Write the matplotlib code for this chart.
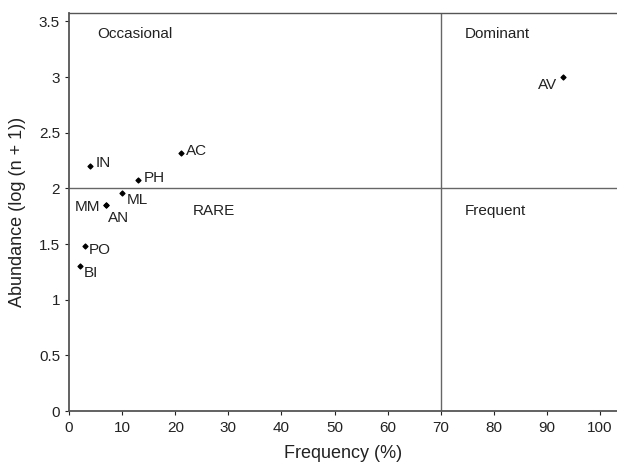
import matplotlib
matplotlib.use("Agg")
import matplotlib.pyplot as plt

plt.rcParams['font.family'] = ['Liberation Sans', 'DejaVu Sans']

codes = ["AV", "AC", "IN", "PH", "ML", "MM", "AN", "PO", "BI"]
frequency = [93, 21, 4, 13, 10, 7, 7, 3, 2]
abundance = [3.0, 2.32, 2.2, 2.08, 1.96, 1.85, 1.85, 1.48, 1.3]
# label offsets in points (dx, dy) and alignment
label_pos = {
    "AV": (-4, -6, "right"),
    "AC": (4, 1, "left"),
    "IN": (4, 2, "left"),
    "PH": (4, 1, "left"),
    "ML": (3, -5, "left"),
    "MM": (-4, -1, "right"),
    "AN": (1, -9, "left"),
    "PO": (3, -3, "left"),
    "BI": (3, -5, "left"),
}
quadrants = [("Occasional", 5.3, 3.39), ("Dominant", 74.6, 3.39),
             ("RARE", 23.2, 1.8), ("Frequent", 74.6, 1.8)]
x_ticks = [0, 10, 20, 30, 40, 50, 60, 70, 80, 90, 100]
y_ticks = [0, 0.5, 1, 1.5, 2, 2.5, 3, 3.5]
y_tick_labels = ["0", "0.5", "1", "1.5", "2", "2.5", "3", "3.5"]

fig = plt.figure(figsize=(6.17, 4.65), dpi=100)
ax = fig.add_axes([0.112, 0.116, 0.888, 0.857])
ax.set_xlim(0, 103.2)
ax.set_ylim(0, 3.58)

ax.axvline(70, color="#666666", lw=1.0, zorder=1)
ax.axhline(2, color="#666666", lw=1.0, zorder=1)

ax.scatter(frequency, abundance, marker="D", s=6, color="black", zorder=3)
for c, x, y in zip(codes, frequency, abundance):
    dx, dy, ha = label_pos[c]
    ax.annotate(c, (x, y), xytext=(dx, dy), textcoords="offset points",
                ha=ha, va="center", fontsize=11, color="#222222")

for t, x, y in quadrants:
    ax.text(x, y, t, ha="left", va="center", fontsize=11, color="#222222")

ax.set_xticks(x_ticks)
ax.set_yticks(y_ticks)
ax.set_yticklabels(y_tick_labels)
ax.tick_params(axis="both", labelsize=11, colors="#222222", length=3,
               width=0.8, direction="out")
ax.tick_params(axis="x", pad=4.5)
for s in ["left", "bottom", "top"]:
    ax.spines[s].set_color("#555555")
    ax.spines[s].set_linewidth(1.3)
ax.spines["top"].set_linewidth(1.0)
ax.spines["right"].set_visible(False)

ax.set_xlabel("Frequency (%)", fontsize=13, color="#222222", labelpad=7)
ax.set_ylabel("Abundance (log (n + 1))", fontsize=13, color="#222222", labelpad=9)

fig.savefig("out.png", dpi=100)
